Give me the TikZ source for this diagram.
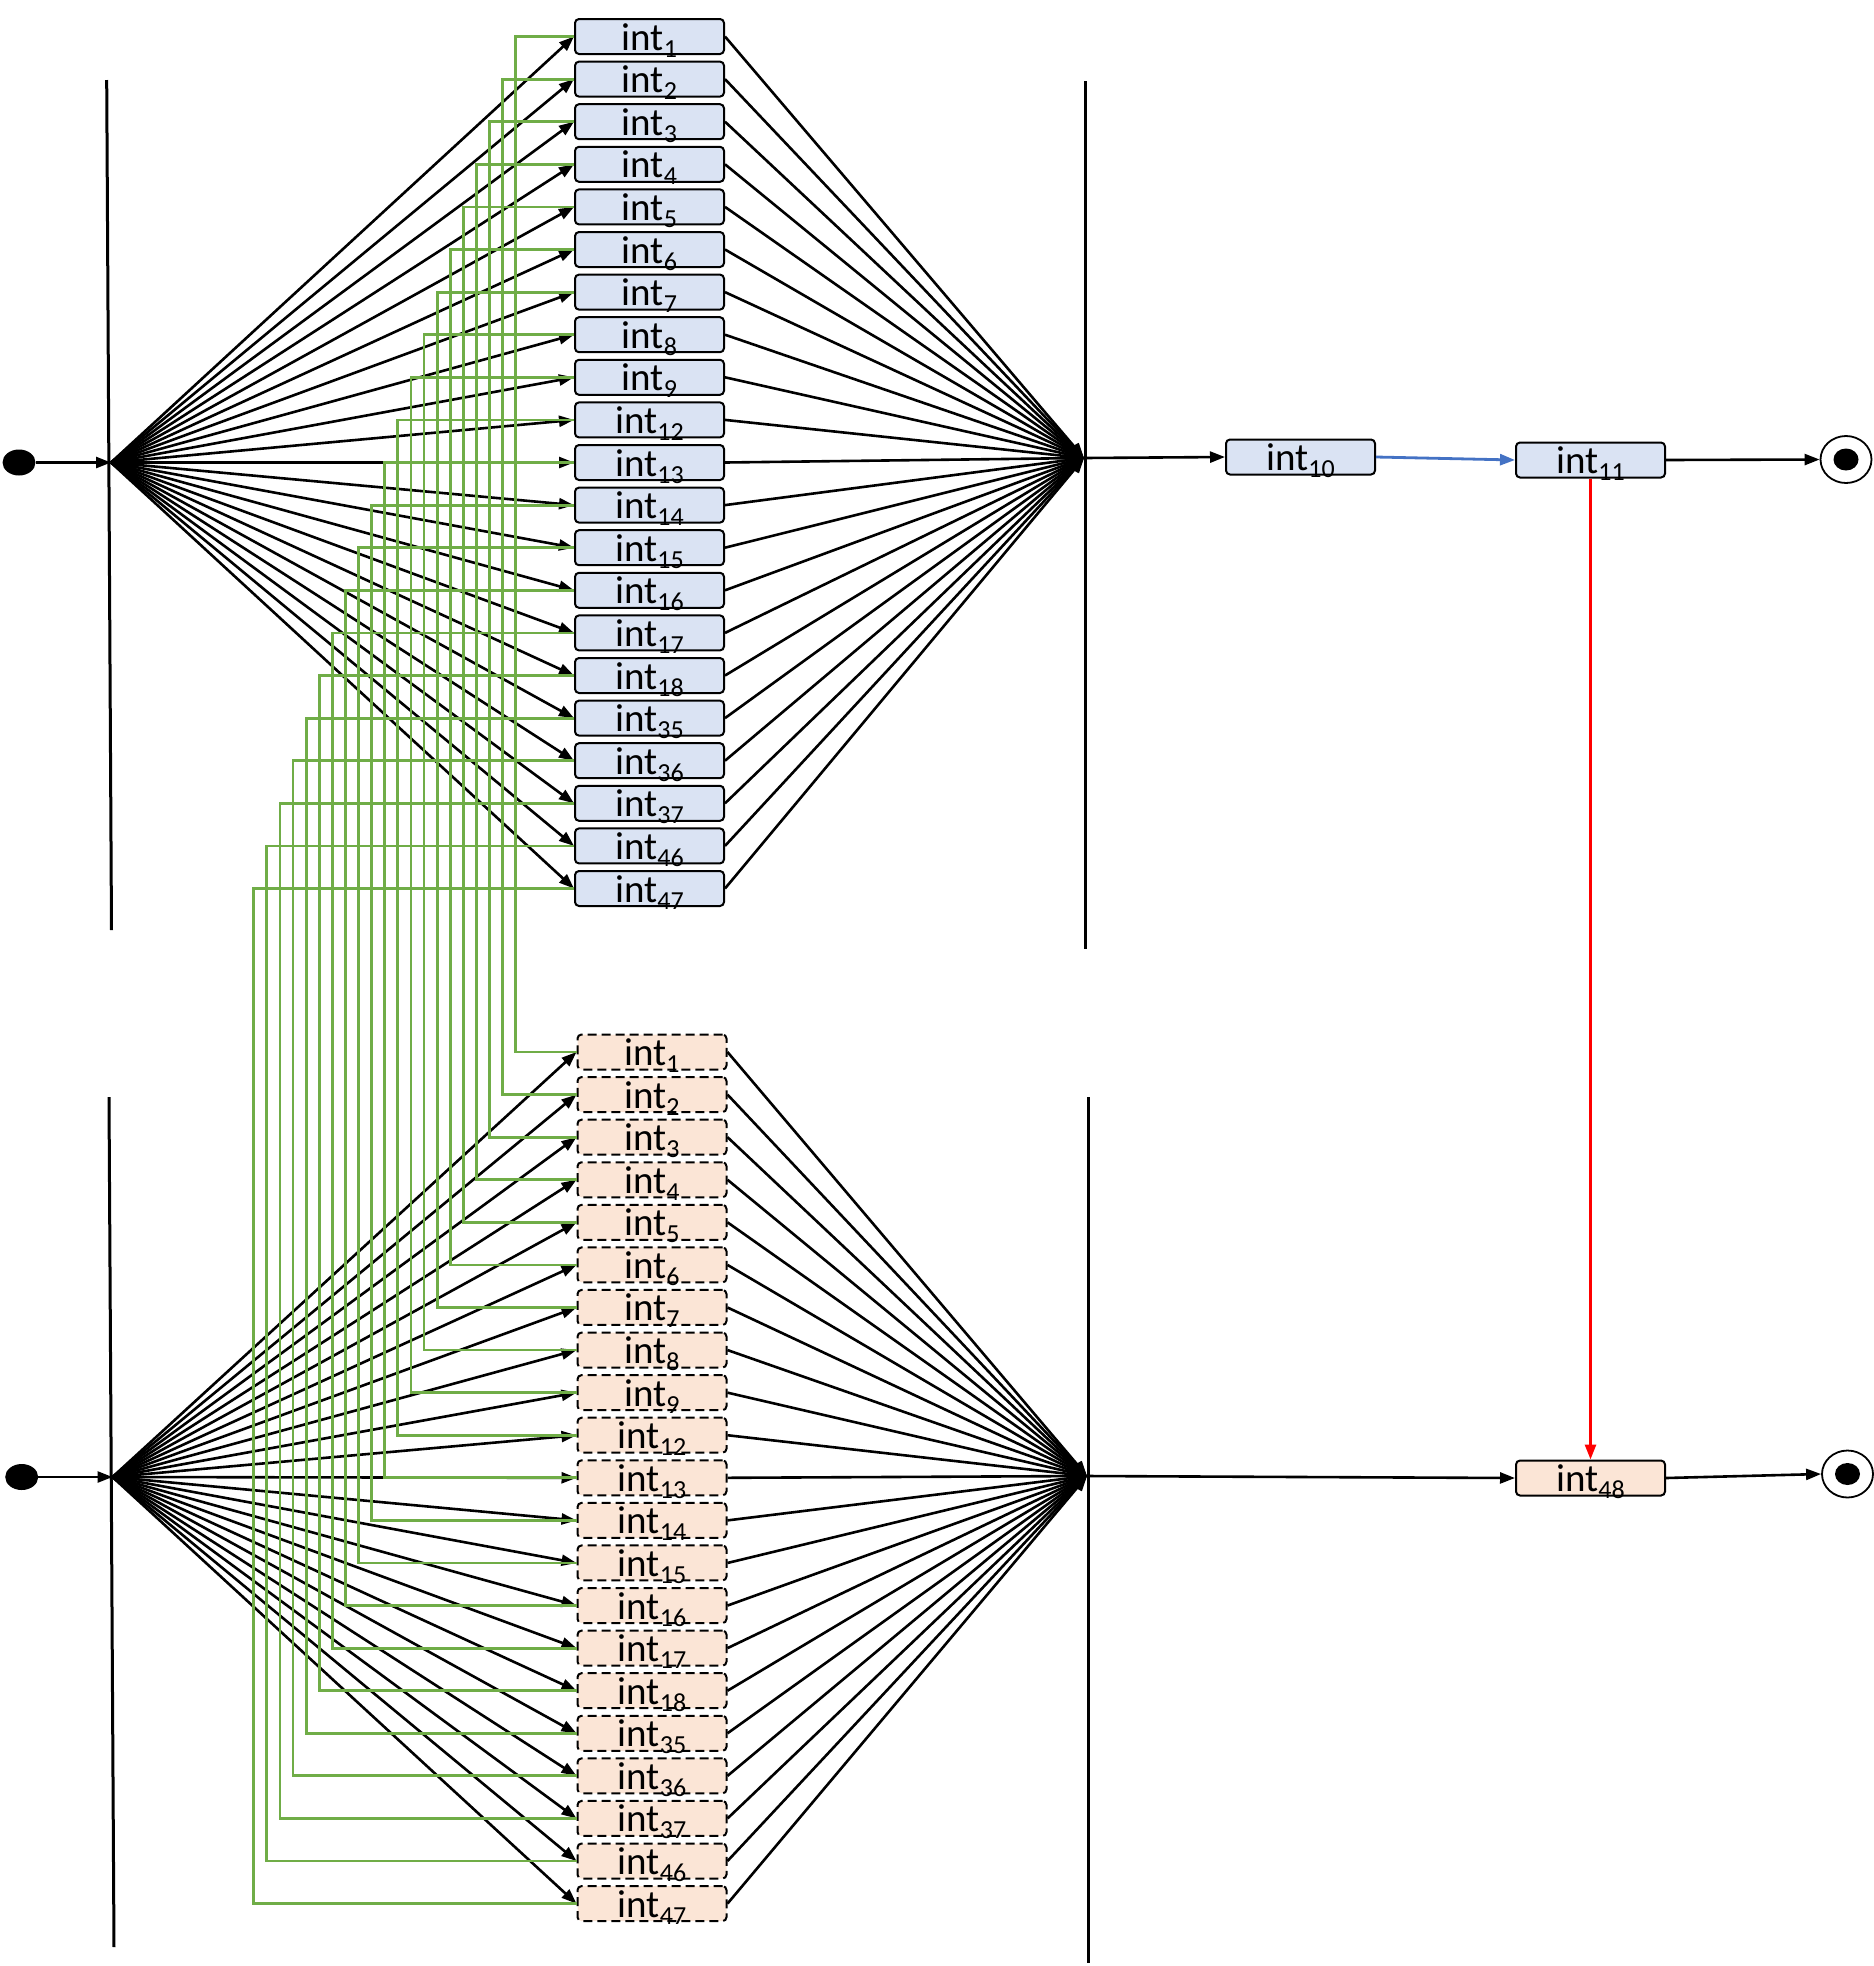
\documentclass[tikz,border=0pt]{standalone}
\usepackage{fontspec}
\setmainfont{Carlito}
\usetikzlibrary{arrows.meta,shapes.geometric}
\definecolor{ublue}{HTML}{DAE3F3}
\definecolor{lorange}{HTML}{FBE5D6}
\definecolor{ggreen}{HTML}{70AD47}
\definecolor{bblue}{HTML}{4472C4}
\newcommand\intlab[1]{int\raisebox{-7pt}{\fontsize{26}{28}\selectfont #1}}
\begin{document}
\begin{tikzpicture}[x=1pt,y=-1pt,
 box/.style={rectangle, rounded corners=4pt, draw=black, line width=2pt, minimum width=149pt, minimum height=35pt, inner sep=0pt, text height=27pt, text depth=0pt, font=\fontsize{39}{42}\selectfont},
 ubox/.style={box, fill=ublue},
 lbox/.style={box, fill=lorange, dash pattern=on 9pt off 5pt},
 arr/.style={line width=2.6pt, -{Triangle[length=15pt,width=11pt]}},
 gline/.style={ggreen, line width=2.8pt},
 bar/.style={line width=3pt},
 startdot/.style={ellipse, fill=black, minimum width=33pt, minimum height=26pt, inner sep=0pt},
 endring/.style={ellipse, draw=black, line width=1.8pt, fill=white, minimum width=51pt, minimum height=47pt, inner sep=0pt},
 enddot/.style={ellipse, fill=black, minimum width=25pt, minimum height=22pt, inner sep=0pt},
 ]
\useasboundingbox (0,0) rectangle (1874,1966);

% fork / join bars
\coordinate (ubt) at (106.7,80);
\coordinate (ubb) at (111.5,930);
\coordinate (lbt) at (109,1097);
\coordinate (lbb) at (114,1947);
\coordinate (ujt) at (1085,81);
\coordinate (ujb) at (1085,949);
\coordinate (ljt) at (1088,1097);
\coordinate (ljb) at (1088,1963);
\draw[bar] (ubt) -- (ubb);
\draw[bar] (lbt) -- (lbb);
\draw[bar] (ujt) -- (ujb);
\draw[bar] (ljt) -- (ljb);
\coordinate (ufork) at (111,462.5);
\coordinate (lfork) at (112.5,1477);
\coordinate (ujoin) at (1084,458);
\coordinate (ljoin) at (1087,1476);

% nodes
\foreach \lab [count=\i from 0] in {1,2,3,4,5,6,7,8,9,12,13,14,15,16,17,18,35,36,37,46,47}{
  \node[ubox] (u\i) at (649.5,{36.5+42.6*\i}) {\intlab{\lab}};
  \node[lbox] (l\i) at (652,{1052+42.58*\i}) {\intlab{\lab}};
}

% black fan arrows
\foreach \i in {0,...,20}{
  \draw[arr] (ufork) -- (u\i.west);
  \draw[arr] (u\i.east) -- (ujoin);
  \draw[arr] (lfork) -- (l\i.west);
  \draw[arr] (l\i.east) -- (ljoin);
}

% green links
\foreach \i in {0,...,20}{
  \draw[gline] (u\i.west) -- ++({-(58.3+13.1*\i)},0) |- (l\i.west);
}

% start dots
\node[startdot] (s1) at (19,462.5) {};
\node[startdot] (s2) at (21.7,1477) {};
\draw[arr] (s1) -- (ufork);
\draw[arr] (s2) -- (lfork);

% right part
\node[ubox] (i10) at (1300.5,457) {\intlab{10}};
\node[ubox] (i11) at (1590.5,460) {\intlab{11}};
\node[box, fill=lorange] (i48) at (1590.5,1478) {\intlab{48}};
\node[endring] (f1) at (1846,459.5) {};
\node[enddot] (f1d) at (f1) {};
\node[endring] (f2) at (1847.5,1474) {};
\node[enddot] (f2d) at (f2) {};

\draw[arr] (ujoin) -- (i10.west);
\draw[arr, bblue, line width=2.8pt] (i10.east) -- (i11.west);
\draw[arr] (i11.east) -- (f1.west);
\draw[arr, red, line width=2.8pt] (i11.south) -- (i48.north);
\draw[arr] (ljoin) -- (i48.west);
\draw[arr] (i48.east) -- (f2.west);
\end{tikzpicture}
\end{document}
